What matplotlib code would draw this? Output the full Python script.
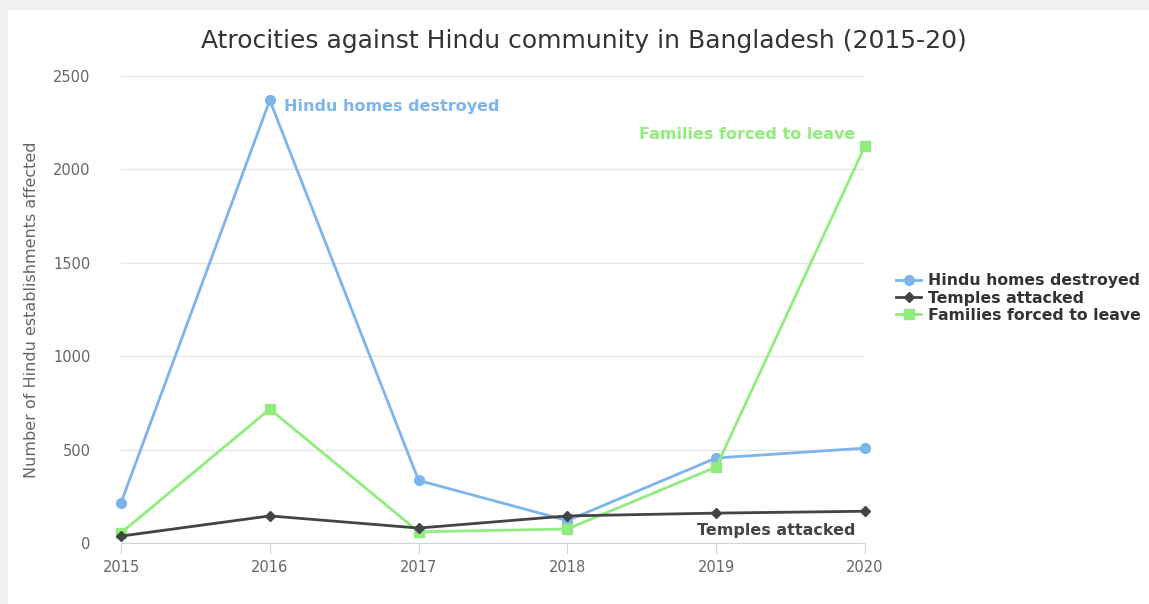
import matplotlib.pyplot as plt
from matplotlib.patches import Rectangle

years = [2015, 2016, 2017, 2018, 2019, 2020]
homes = [215, 2370, 335, 120, 455, 508]
temples = [37, 145, 80, 145, 160, 170]
families = [54, 717, 60, 75, 407, 2125]
yticks = [0, 500, 1000, 1500, 2000, 2500]

blue = '#7cb5ec'
dark = '#434348'
green = '#90ed7d'

fig = plt.figure(figsize=(11.49, 6.04), dpi=100)
fig.patch.set_facecolor('#f0f0f0')
fig.patches.append(Rectangle((8/1149, 0), 1, 1 - 10/604, transform=fig.transFigure,
                             facecolor='white', edgecolor='none', zorder=-10))

ax = fig.add_axes([121/1149, 1 - 543/604, (865 - 121)/1149, (543 - 76)/604])
ax.set_facecolor('none')

ax.plot(years, homes, color=blue, lw=2, marker='o', ms=7, label='Hindu homes destroyed', zorder=3, clip_on=False)
ax.plot(years, temples, color=dark, lw=2, marker='D', ms=5, label='Temples attacked', zorder=4, clip_on=False)
ax.plot(years, families, color=green, lw=2, marker='s', ms=7, label='Families forced to leave', zorder=3, clip_on=False)

ax.set_xlim(2015, 2020)
ax.set_ylim(0, 2500)
ax.set_xticks(years)
ax.set_yticks(yticks)
ax.tick_params(axis='x', colors='#666666', labelsize=10.5, length=8, color='#ccd6eb', pad=4)
ax.tick_params(axis='y', colors='#666666', labelsize=10.5, length=0, pad=22)
ax.grid(axis='y', color='#e6e6e6', lw=1)
ax.set_axisbelow(True)
for s in ['top', 'right', 'left']:
    ax.spines[s].set_visible(False)
ax.spines['bottom'].set_color('#ccd6eb')

ax.set_ylabel('Number of Hindu establishments affected', color='#666666', fontsize=11.5, labelpad=10)

ax.annotate('Hindu homes destroyed', (years[1], homes[1]), xytext=(10, -8),
            textcoords='offset points', color=blue, fontsize=11.5, fontweight='bold')
ax.annotate('Families forced to leave', (years[-1], families[-1]), xytext=(-7, 5),
            textcoords='offset points', color=green, fontsize=11.5, fontweight='bold', ha='right')
ax.annotate('Temples attacked', (years[-1], temples[-1]), xytext=(-7, -17),
            textcoords='offset points', color=dark, fontsize=11.5, fontweight='bold', ha='right')

fig.suptitle('Atrocities against Hindu community in Bangladesh (2015-20)', x=0.508, y=0.952,
             fontsize=18, color='#333333')

leg = fig.legend(loc='center left', bbox_to_anchor=(882/1149, 1 - 298/604), frameon=False,
                 handlelength=1.6, labelspacing=0.15, handletextpad=0.4,
                 prop={'weight': 'bold', 'size': 11.3})
for t in leg.get_texts():
    t.set_color('#333333')

fig.savefig('out.png', dpi=100)
